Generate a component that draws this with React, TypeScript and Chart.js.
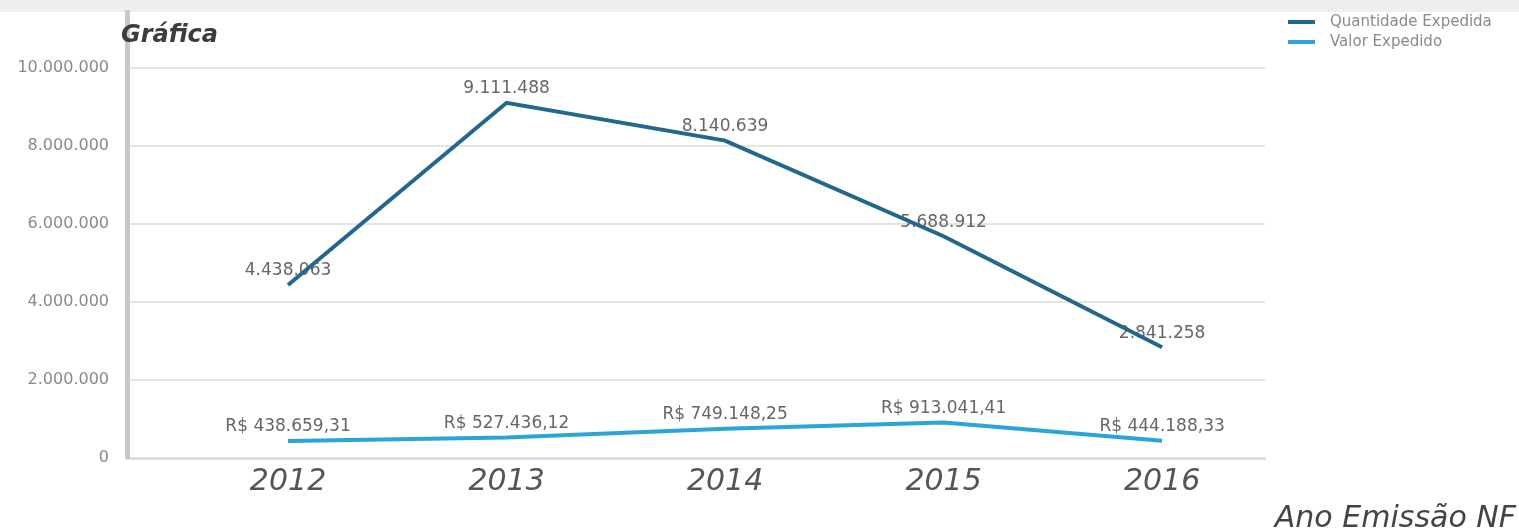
import React, { useEffect, useRef } from 'react';
import { Chart, registerables } from 'chart.js';

Chart.register(...registerables);

const categories = ['2012', '2013', '2014', '2015', '2016'];
const quantidadeExpedida = [4438063, 9111488, 8140639, 5688912, 2841258];
const valorExpedido = [438659.31, 527436.12, 749148.25, 913041.41, 444188.33];
const yTickValues = [0, 2000000, 4000000, 6000000, 8000000, 10000000];
const seriesLabels = ['Quantidade Expedida', 'Valor Expedido'];
const chartTitle = 'Gráfica';
const xAxisTitle = 'Ano Emissão NF';

const DARK = '#21688c';
const LIGHT = '#2ba4d6';
const FONT = "'DejaVu Sans', sans-serif";

function fmtInt(n: number): string {
  return String(Math.round(n)).replace(/\B(?=(\d{3})+(?!\d))/g, '.');
}
function fmtBRL(n: number): string {
  const cents = Math.round(n * 100);
  const intPart = Math.floor(cents / 100);
  const dec = String(cents % 100).padStart(2, '0');
  return 'R$ ' + fmtInt(intPart) + ',' + dec;
}

const decorPlugin = {
  id: 'decor',
  beforeDraw(chart: any) {
    const ctx = chart.ctx;
    ctx.save();
    ctx.fillStyle = '#eeeeee';
    ctx.fillRect(0, 0, chart.width, 12);
    ctx.restore();
  },
  beforeDatasetsDraw(chart: any) {
    const ctx = chart.ctx;
    ctx.save();
    ctx.font = `17px ${FONT}`;
    ctx.fillStyle = '#666666';
    ctx.textAlign = 'center';
    ctx.textBaseline = 'middle';
    chart.data.datasets.forEach((ds: any, i: number) => {
      const meta = chart.getDatasetMeta(i);
      meta.data.forEach((pt: any, j: number) => {
        const v = ds.data[j].y;
        const txt = i === 0 ? fmtInt(v) : fmtBRL(v);
        ctx.fillText(txt, pt.x, pt.y - 14);
      });
    });
    ctx.restore();
  },
  afterDraw(chart: any) {
    const ctx = chart.ctx;
    ctx.save();
    // title
    ctx.font = `italic bold 24px ${FONT}`;
    ctx.fillStyle = '#3c3c3c';
    ctx.textAlign = 'left';
    ctx.textBaseline = 'middle';
    ctx.fillText(chartTitle, 121, 36);
    // x axis title
    ctx.font = `italic 30px ${FONT}`;
    ctx.fillStyle = '#444444';
    ctx.textAlign = 'right';
    ctx.textBaseline = 'alphabetic';
    ctx.fillText(xAxisTitle, 1516, 527);
    // legend
    ctx.font = `15px ${FONT}`;
    ctx.textAlign = 'left';
    ctx.textBaseline = 'middle';
    chart.data.datasets.forEach((ds: any, i: number) => {
      const y = 22 + i * 20;
      ctx.strokeStyle = ds.borderColor;
      ctx.lineWidth = 4;
      ctx.beginPath();
      ctx.moveTo(1288, y);
      ctx.lineTo(1315, y);
      ctx.stroke();
      ctx.fillStyle = '#8a8a8a';
      ctx.fillText(ds.label, 1330, y);
    });
    ctx.restore();
  },
};

export default function App() {
  const ref = useRef<HTMLCanvasElement | null>(null);
  useEffect(() => {
    document.body.style.margin = '0';
    if (!ref.current) return;
    const toPts = (arr: number[]) => arr.map((v, i) => ({ x: Number(categories[i]), y: v }));
    const chart = new Chart(ref.current, {
      type: 'line',
      data: {
        datasets: [
          {
            label: seriesLabels[0],
            data: toPts(quantidadeExpedida),
            borderColor: DARK,
            backgroundColor: DARK,
            borderWidth: 4,
            pointRadius: 0,
            tension: 0,
          },
          {
            label: seriesLabels[1],
            data: toPts(valorExpedido),
            borderColor: LIGHT,
            backgroundColor: LIGHT,
            borderWidth: 4,
            pointRadius: 0,
            tension: 0,
          },
        ],
      },
      options: {
        animation: false,
        responsive: false,
        devicePixelRatio: 1,
        layout: { padding: { left: 0, right: 254, top: 12, bottom: 0 } },
        plugins: {
          legend: { display: false },
          tooltip: { enabled: false },
        },
        scales: {
          x: {
            type: 'linear',
            min: 2011.263,
            max: 2016.471,
            afterBuildTicks: (scale: any) => {
              scale.ticks = categories.map((c) => ({ value: Number(c) }));
            },
            afterFit: (scale: any) => {
              scale.height = 74;
              scale.paddingLeft = 0;
              scale.paddingRight = 0;
            },
            ticks: {
              callback: (v: any) => String(v),
              font: { family: FONT, size: 30, style: 'italic' },
              color: '#555555',
              padding: 6,
              maxRotation: 0,
              autoSkip: false,
            },
            grid: { display: false, drawTicks: false },
            border: { display: true, color: '#dddddd', width: 3 },
          },
          y: {
            type: 'linear',
            min: 0,
            max: 11440000,
            afterBuildTicks: (scale: any) => {
              scale.ticks = yTickValues.map((v) => ({ value: v }));
            },
            afterFit: (scale: any) => {
              scale.width = 127;
              scale.paddingTop = 0;
              scale.paddingBottom = 0;
            },
            ticks: {
              callback: (v: any) => fmtInt(Number(v)),
              font: { family: FONT, size: 16 },
              color: '#8a8a8a',
              padding: 18,
            },
            grid: { color: '#e4e4e4', lineWidth: 2, drawTicks: false },
            border: { display: true, color: '#c8c8c8', width: 5 },
          },
        },
      },
      plugins: [decorPlugin],
    } as any);
    return () => chart.destroy();
  }, []);
  return (
    <div style={{ width: 1519, height: 532, background: '#ffffff' }}>
      <canvas ref={ref} width={1519} height={532} style={{ display: 'block' }} />
    </div>
  );
}
